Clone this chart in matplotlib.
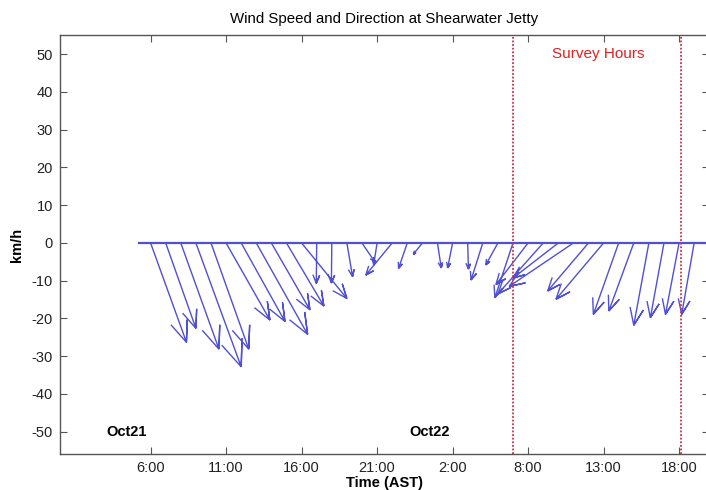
import numpy as np
import matplotlib
matplotlib.use('Agg')
import matplotlib.pyplot as plt

plt.rcParams['font.family'] = ['Liberation Sans', 'DejaVu Sans']
plt.rcParams['axes.unicode_minus'] = False

# Hourly wind vectors (km/h): u = east component, v = north component
u = [9.5, 8.0, 10.1, 12.0, 10.0, 11.6, 11.6, 13.6, 10.2, 9.9, 12.0, -0.1, -0.1, 1.5,
     3.4, -0.9, -7.0, -2.3, -2.4, 1.0, -1.3, 0.2, -3.1, -3.2, -4.8, -8.5, -12.0, -12.0,
     -17.0, -10.8, -12.6, -6.7, -6.6, -4.0, -3.6, -3.6, -3.3]
v = [-26.3, -22.6, -28.1, -32.8, -28.1, -20.4, -20.8, -24.2, -17.7, -16.7, -14.7, -10.7,
     -10.6, -8.9, -5.0, -5.8, -8.5, -6.7, -3.0, -6.6, -6.6, -6.9, -9.8, -5.8, -14.5,
     -11.0, -13.5, -9.3, -11.5, -12.7, -14.9, -18.9, -18.0, -21.8, -19.8, -18.9, -18.9]

tick_index = [0, 5, 10, 15, 20, 25, 30, 35]
tick_labels = ['6:00', '11:00', '16:00', '21:00', '2:00', '8:00', '13:00', '18:00']
survey_start_index = 24
survey_end_index = 35.1
day_labels = ['Oct21', 'Oct22']
day_label_index = [-1.56, 18.5]

STEP = 4.0  # x units per hourly sample (so arrows keep true proportions)

W, H = 706, 490
fig = plt.figure(figsize=(W / 100, H / 100), dpi=100)
AXW = 648.5
ax = fig.add_axes([60 / W, 36 / H, AXW / W, 419 / H])

ppu = 419 / 111.0
xmin = -24.0
xmax = xmin + AXW / ppu
ax.set_xlim(xmin, xmax)
ax.set_ylim(-55.9, 55.1)

blue = '#5050d2'
n = len(u)
x0 = np.arange(n) * STEP
# MATLAB feather-style arrow shape
xx = np.array([0, 1, .8, 1, .8])
yy = np.array([0, 0, .08, 0, -.08])
shape = xx + 1j * yy
X, Y = [], []
for i in range(n):
    z = (u[i] + 1j * v[i]) * shape
    X.extend(list(x0[i] + z.real) + [np.nan])
    Y.extend(list(z.imag) + [np.nan])
ax.plot(X, Y, color=blue, lw=1.0, solid_joinstyle='miter')
ax.plot([-0.75 * STEP, xmax], [0, 0], color=blue, lw=1.6)

red = '#cc3344'
for idx in (survey_start_index, survey_end_index):
    ax.axvline(idx * STEP, color=red, ls=(0, (1, 1)), lw=1.3)
ax.text(118.5, 50, 'Survey Hours', color='#dd2222', fontsize=11, ha='center', va='center')

for lab, idx in zip(day_labels, day_label_index):
    ax.text(idx * STEP, -50, lab, fontsize=10.5, fontweight='bold', ha='center', va='center')

ax.set_xticks([i * STEP for i in tick_index])
ax.set_xticklabels(tick_labels)
ax.set_yticks(np.arange(-50, 51, 10))
ax.tick_params(direction='in', top=True, right=True, length=5, labelsize=10.5,
               color='#555555', width=0.8, labelcolor='#222222')
ax.tick_params(axis='y', pad=5)
ax.tick_params(axis='x', pad=5)
for s in ax.spines.values():
    s.set_color('#555555')
    s.set_linewidth(1.0)
ax.spines['right'].set_visible(False)

ax.set_title('Wind Speed and Direction at Shearwater Jetty', fontsize=10.8, pad=9)
ax.set_xlabel('Time (AST)', fontsize=10.5, fontweight='bold')
ax.xaxis.set_label_coords(0.5, -0.052)
ax.set_ylabel('km/h', fontsize=10.5, fontweight='bold')
ax.yaxis.set_label_coords(-0.055, 0.5)

fig.savefig('out.png', dpi=100)
